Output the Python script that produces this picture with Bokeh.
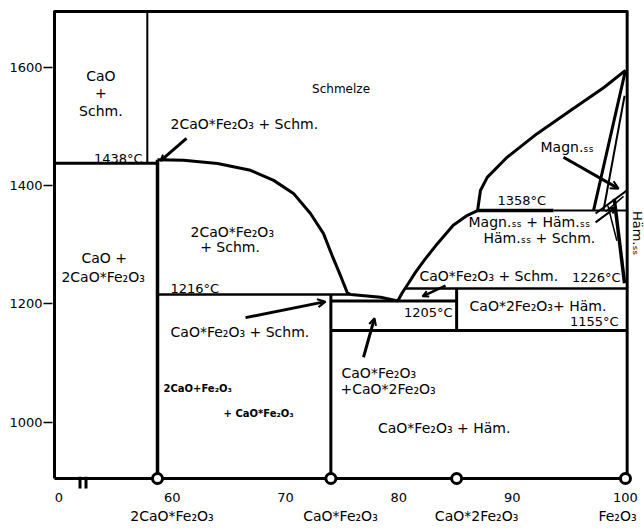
import numpy as np
from bokeh.plotting import figure
from bokeh.models import Range1d, FixedTicker, Arrow, OpenHead, ColumnDataSource, LinearAxis
from bokeh.embed import file_html
from bokeh.resources import INLINE
from bokeh.core.properties import value

FONT = "DejaVu Sans"

# ---------------- data (wt% Fe2O3, °C) ----------------
x_min, x_max = 49.433, 101.68         # plotted range
T_min, T_max = 884.7, 1713.1
box_left, box_right = 49.61, 100.15   # diagram box
box_bottom, box_top = 905.0, 1694.5

x_ticks = [50, 60, 70, 80, 90, 100]
x_tick_labels = ["0", "60", "70", "80", "90", "100"]
y_ticks = [1000, 1200, 1400, 1600]

compounds = ["2CaO*Fe₂O₃", "CaO*Fe₂O₃", "CaO*2Fe₂O₃", "Fe₂O₃"]
compound_x = [58.7, 74.0, 85.1, 100.0]
compound_label_x = [59.98, 74.85, 86.86, 99.3]

# isotherms
iso_T = [1438, 1216, 1205, 1155, 1226, 1358, 1358]
iso_x0 = [49.61, 58.7, 74.0, 74.0, 80.6, 86.95, 93.65]
iso_x1 = [58.7, 75.75, 85.1, 100.15, 100.15, 93.65, 100.15]
iso_w = [3, 2.5, 3, 3, 2.5, 3.5, 2]

# vertical phase boundaries
vert_x = [57.8, 58.7, 74.0, 85.1]
vert_T0 = [1694.5, 1444, 1216, 1226]
vert_T1 = [1438, 905, 905, 1155]
vert_w = [2, 3.5, 3, 3]

# liquidus of 2CaO*Fe2O3 / CaO*Fe2O3 down to the eutectic
dome_x = [58.7, 58.8, 61.0, 64.0, 66.9, 68.95, 70.7, 72.2, 73.35, 74.15, 74.85, 75.45, 75.75, 78.4, 79.9]
dome_T = [1444, 1444, 1443, 1437.5, 1426, 1409, 1387, 1353, 1319, 1280, 1248, 1219, 1216, 1211.5, 1205]

# hematite liquidus (eutectic -> 1358)
hem_x = [79.9, 80.3, 80.85, 81.45, 82.2, 83.4, 84.8, 86.05, 86.95]
hem_T = [1205, 1219, 1235, 1253, 1273, 1302, 1333, 1350, 1358]

# magnetite liquidus
mag_x = [86.95, 87.2, 87.8, 89.55, 92.2, 95.15, 98.1, 100.0]
mag_T = [1358, 1392, 1414, 1448, 1488, 1527, 1566, 1595]

# solid-solution boundaries near Fe2O3
ss_lines = [
    ([100.0, 97.18], [1595, 1358], 3),
    ([99.92, 98.06], [1552, 1358], 2),
    ([100.14, 97.36], [1392, 1353], 2),
    ([99.83, 98.24], [1382, 1356], 1.5),
    ([99.01, 99.92], [1378, 1235], 3.5),
    ([98.45, 99.24], [1366, 1307], 1.5),
]

# axis break marks
break_x = [51.86, 52.39]
break_T = [908, 888]

# region labels: text, x, T, align, size, style
labels = [
    ("Schmelze", 74.9, 1563, "center", 12, "normal"),
    ("CaO", 53.7, 1586, "center", 14, "normal"),
    ("+", 53.7, 1557, "center", 14, "normal"),
    ("Schm.", 53.7, 1527, "center", 14, "normal"),
    ("2CaO*Fe₂O₃ + Schm.", 59.85, 1505, "left", 14, "normal"),
    ("2CaO*Fe₂O₃", 65.3, 1322, "center", 14, "normal"),
    ("+ Schm.", 65.1, 1297, "center", 14, "normal"),
    ("CaO +", 54.0, 1277, "center", 14, "normal"),
    ("2CaO*Fe₂O₃", 53.9, 1246, "center", 14, "normal"),
    ("CaO*Fe₂O₃ + Schm.", 59.85, 1153, "left", 14, "normal"),
    ("2CaO+Fe₂O₃", 59.23, 1057, "left", 10, "bold"),
    ("+ CaO*Fe₂O₃", 64.53, 1015, "left", 10, "bold"),
    ("CaO*2Fe₂O₃+ Häm.", 86.24, 1197, "left", 14, "normal"),
    ("CaO*Fe₂O₃ + Schm.", 81.82, 1248, "left", 14, "normal"),
    ("CaO*Fe₂O₃", 74.94, 1084, "left", 14, "normal"),
    ("+CaO*2Fe₂O₃", 74.85, 1057, "left", 14, "normal"),
    ("CaO*Fe₂O₃ + Häm.", 84.0, 991, "center", 14, "normal"),
    ("Magn.ₛₛ", 92.5, 1465, "left", 14, "normal"),
    ("Magn.ₛₛ + Häm.ₛₛ", 86.15, 1339, "left", 14, "normal"),
    ("Häm.ₛₛ + Schm.", 87.47, 1311, "left", 14, "normal"),
]

# temperature labels: value, x, T, align
temp_labels = [
    (1438, 57.38, 1446, "right"),
    (1216, 59.85, 1226, "left"),
    (1205, 84.74, 1186, "right"),
    (1155, 99.39, 1170, "right"),
    (1226, 99.57, 1245, "right"),
    (1358, 88.71, 1375, "left"),
]

# arrows: x_start, T_start, x_tip, T_tip, width, head
arrows = [
    (61.26, 1480, 58.96, 1442, 3, 6),
    (66.47, 1177, 73.53, 1204, 3, 8),
    (76.88, 1110, 77.85, 1176, 3, 7),
    (84.12, 1231, 82.09, 1213, 2.5, 6),
    (94.53, 1448, 99.39, 1395, 3, 8),
    (97.36, 1338, 99.12, 1363, 2, 6),
]

# ---------------- figure ----------------
p = figure(width=644, height=529, output_backend="svg", toolbar_location=None,
           x_range=Range1d(x_min, x_max), y_range=Range1d(T_min, T_max),
           min_border_left=52, min_border_right=0, min_border_top=0, min_border_bottom=39)
p.outline_line_color = None
p.grid.visible = False
p.background_fill_color = "white"
p.border_fill_color = "white"

p.yaxis.ticker = FixedTicker(ticks=y_ticks)
p.yaxis.axis_line_color = None
p.yaxis.major_tick_out = 9
p.yaxis.major_tick_in = 0
p.yaxis.major_tick_line_width = 1.5
p.yaxis.minor_tick_line_color = None
p.yaxis.major_label_standoff = 1
p.yaxis.major_label_text_font = FONT
p.yaxis.major_label_text_font_size = "13px"
p.yaxis.major_label_text_color = "black"

p.xaxis.ticker = FixedTicker(ticks=x_ticks)
p.xaxis.major_label_overrides = {t: s for t, s in zip(x_ticks, x_tick_labels)}
p.xaxis.axis_line_color = None
p.xaxis.major_tick_line_color = None
p.xaxis.major_tick_out = 0
p.xaxis.major_tick_in = 0
p.xaxis.minor_tick_line_color = None
p.xaxis.major_label_standoff = 2
p.xaxis.major_label_text_font = FONT
p.xaxis.major_label_text_font_size = "13px"
p.xaxis.major_label_text_color = "black"

# compound names as a second axis below
comp_axis = LinearAxis(ticker=FixedTicker(ticks=compound_label_x),
                       major_label_overrides={t: s for t, s in zip(compound_label_x, compounds)},
                       axis_line_color=None, major_tick_line_color=None,
                       minor_tick_line_color=None, major_tick_out=0, major_tick_in=0,
                       major_label_standoff=3, major_label_text_font=FONT,
                       major_label_text_font_size="14px", major_label_text_color="black")
p.add_layout(comp_axis, "below")

# line collection
xs, ys, ws = [], [], []
def add(x, y, w):
    xs.append(list(x)); ys.append(list(y)); ws.append(w)

add([box_left, box_right, box_right, box_left, box_left],
    [box_bottom, box_bottom, box_top, box_top, box_bottom], 3)
for T, a, b, w in zip(iso_T, iso_x0, iso_x1, iso_w):
    add([a, b], [T, T], w)
for x, a, b, w in zip(vert_x, vert_T0, vert_T1, vert_w):
    add([x, x], [a, b], w)
add(dome_x, dome_T, 3)
add(hem_x, hem_T, 3)
add(mag_x, mag_T, 3)
for lx, ly, w in ss_lines:
    add(lx, ly, w)
for bx in break_x:
    add([bx, bx], break_T, 3)

src = ColumnDataSource(dict(xs=xs, ys=ys, w=ws))
p.multi_line(xs="xs", ys="ys", line_width="w", line_color="black", source=src,
             line_join="round", line_cap="butt")

p.scatter(compound_x, [box_bottom] * len(compound_x), size=10, marker="circle",
          fill_color="white", line_color="black", line_width=3)

for txt, x, T, al, sz, st in labels:
    p.text([x], [T], text=[txt], text_align=al, text_baseline="middle",
           text_font=value(FONT), text_font_size=f"{sz}px", text_font_style=st,
           text_color="black")

for t, x, T, al in temp_labels:
    p.text([x], [T], text=[f"{t}°C"], text_align=al, text_baseline="middle",
           text_font=value(FONT), text_font_size="13px", text_color="black")

p.text([101.1], [1320], text=["Häm.ₛₛ"], angle=-np.pi / 2, text_align="center",
       text_baseline="middle", text_font=value(FONT), text_font_size="13px",
       text_color="black")

for xs0, ys0, xe, ye, w, hs in arrows:
    p.add_layout(Arrow(end=OpenHead(size=hs, line_width=2, line_color="black"),
                       x_start=xs0, y_start=ys0, x_end=xe, y_end=ye,
                       line_width=w, line_color="black"))

open("out.html", "w").write(file_html(p, INLINE))
